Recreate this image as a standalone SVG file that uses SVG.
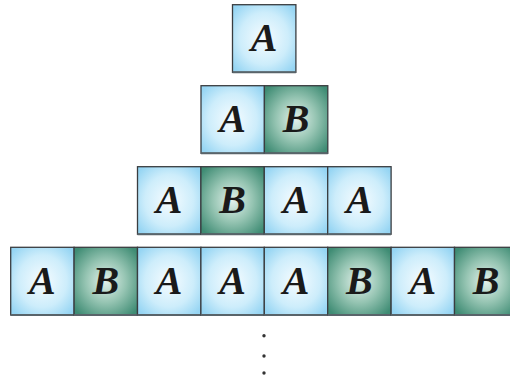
<svg xmlns="http://www.w3.org/2000/svg" width="510" height="381" viewBox="0 0 510 381">
  <defs>
    <radialGradient id="gradA" cx="0.5" cy="0.5" r="0.64">
      <stop offset="0" stop-color="#f6fcff"/>
      <stop offset="0.6" stop-color="#cdedfb"/>
      <stop offset="1" stop-color="#96d5f3"/>
    </radialGradient>
    <radialGradient id="gradB" cx="0.5" cy="0.5" r="0.64">
      <stop offset="0" stop-color="#e4f2ec"/>
      <stop offset="0.5" stop-color="#95c4b2"/>
      <stop offset="1" stop-color="#3f8c74"/>
    </radialGradient>
    <style>
      .box { stroke: #3a3d40; stroke-width: 1.3; }
      .a { fill: url(#gradA); }
      .b { fill: url(#gradB); }
      .base { stroke: #59646a; stroke-width: 2; }
      .lbl { font-family: "Liberation Serif", "Times New Roman", serif; font-weight: bold; font-style: italic; font-size: 40px; fill: #1a1a1a; text-anchor: middle; }
      .dot { fill: #333; }
    </style>
  </defs>

  <!-- row 1 -->
  <g id="r1c1"><rect class="box a" x="232.5" y="4.7" width="63.4" height="67.6"/><line class="base" x1="232.5" y1="72.3" x2="295.9" y2="72.3"/><text class="lbl" x="264.2" y="51">A</text></g>

  <!-- row 2 -->
  <g id="r2c1"><rect class="box a" x="201" y="85.7" width="63.4" height="67.6"/><line class="base" x1="201" y1="153.3" x2="264.4" y2="153.3"/><text class="lbl" x="232.7" y="132">A</text></g>
  <g id="r2c2"><rect class="box b" x="264.4" y="85.7" width="63.4" height="67.6"/><line class="base" x1="264.4" y1="153.3" x2="327.8" y2="153.3"/><text class="lbl" x="296.1" y="132">B</text></g>

  <!-- row 3 -->
  <g id="r3c1"><rect class="box a" x="137.5" y="166.7" width="63.4" height="67.5"/><line class="base" x1="137.5" y1="234.2" x2="200.9" y2="234.2"/><text class="lbl" x="169.2" y="213">A</text></g>
  <g id="r3c2"><rect class="box b" x="200.9" y="166.7" width="63.4" height="67.5"/><line class="base" x1="200.9" y1="234.2" x2="264.3" y2="234.2"/><text class="lbl" x="232.6" y="213">B</text></g>
  <g id="r3c3"><rect class="box a" x="264.3" y="166.7" width="63.4" height="67.5"/><line class="base" x1="264.3" y1="234.2" x2="327.7" y2="234.2"/><text class="lbl" x="296" y="213">A</text></g>
  <g id="r3c4"><rect class="box a" x="327.7" y="166.7" width="63.4" height="67.5"/><line class="base" x1="327.7" y1="234.2" x2="391.1" y2="234.2"/><text class="lbl" x="359.4" y="213">A</text></g>

  <!-- row 4 -->
  <g id="r4c1"><rect class="box a" x="10.7" y="247.3" width="63.4" height="67.7"/><line class="base" x1="10.7" y1="315" x2="74.1" y2="315"/><text class="lbl" x="42.4" y="294">A</text></g>
  <g id="r4c2"><rect class="box b" x="74.1" y="247.3" width="63.4" height="67.7"/><line class="base" x1="74.1" y1="315" x2="137.5" y2="315"/><text class="lbl" x="105.8" y="294">B</text></g>
  <g id="r4c3"><rect class="box a" x="137.5" y="247.3" width="63.4" height="67.7"/><line class="base" x1="137.5" y1="315" x2="200.9" y2="315"/><text class="lbl" x="169.2" y="294">A</text></g>
  <g id="r4c4"><rect class="box a" x="200.9" y="247.3" width="63.4" height="67.7"/><line class="base" x1="200.9" y1="315" x2="264.3" y2="315"/><text class="lbl" x="232.6" y="294">A</text></g>
  <g id="r4c5"><rect class="box a" x="264.3" y="247.3" width="63.4" height="67.7"/><line class="base" x1="264.3" y1="315" x2="327.7" y2="315"/><text class="lbl" x="296" y="294">A</text></g>
  <g id="r4c6"><rect class="box b" x="327.7" y="247.3" width="63.4" height="67.7"/><line class="base" x1="327.7" y1="315" x2="391.1" y2="315"/><text class="lbl" x="359.4" y="294">B</text></g>
  <g id="r4c7"><rect class="box a" x="391.1" y="247.3" width="63.4" height="67.7"/><line class="base" x1="391.1" y1="315" x2="454.5" y2="315"/><text class="lbl" x="422.8" y="294">A</text></g>
  <g id="r4c8"><rect class="box b" x="454.5" y="247.3" width="63.4" height="67.7"/><line class="base" x1="454.5" y1="315" x2="517.9" y2="315"/><text class="lbl" x="486.2" y="294">B</text></g>

  <!-- continuation dots -->
  <g id="ellipsis">
    <circle class="dot" cx="264" cy="335.7" r="1.7"/>
    <circle class="dot" cx="264" cy="356" r="1.7"/>
    <circle class="dot" cx="264" cy="373" r="1.7"/>
  </g>
</svg>
